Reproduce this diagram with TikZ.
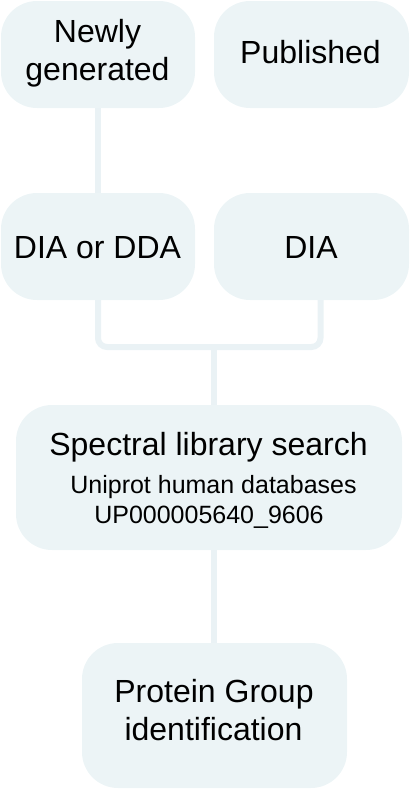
\documentclass[tikz,border=0pt]{standalone}
\usepackage{fontspec}
\setmainfont{Liberation Sans}
\definecolor{boxfill}{RGB}{236,244,246}
\definecolor{linecol}{RGB}{234,242,245}
\begin{document}
\begin{tikzpicture}[x=1pt,y=-1pt,
  box/.style={fill=boxfill,draw=none,rounded corners=36pt,inner sep=0pt},
  big/.style={font=\fontsize{32}{38}\selectfont,anchor=base,inner sep=0pt,text=black},
  small/.style={font=\fontsize{25}{30}\selectfont,anchor=base,inner sep=0pt,text=black},
  conn/.style={draw=linecol,line width=6pt}]
\useasboundingbox (0,0) rectangle (410,790);
% boxes
\node[box,minimum width=194pt,minimum height=107pt] (b1) at (98,54.5) {};
\node[box,minimum width=195pt,minimum height=107pt] (b2) at (311.5,54.5) {};
\node[box,minimum width=194pt,minimum height=107pt] (b3) at (98,246.5) {};
\node[box,minimum width=195pt,minimum height=107pt] (b4) at (311.5,246.5) {};
\node[box,minimum width=386pt,minimum height=145pt] (b5) at (209,477.5) {};
\node[box,minimum width=265pt,minimum height=145pt] (b6) at (214.5,715.5) {};
% connectors
\coordinate (jL) at (98,347);
\coordinate (jR) at (320.5,347);
\coordinate (jM) at (214,347);
\draw[conn] (b1.south) -- (b3.north);
\draw[conn,rounded corners=9pt] (b3.south) -- (jL) -- (jR) -- (jR |- b4.south);
\draw[conn] (jM) -- (jM |- b5.north);
\draw[conn] (jM |- b5.south) -- (jM |- b6.north);
% texts
\node[big] (t1a) at (97.5,42) {Newly};
\node[big] (t1b) at (97.5,80) {generated};
\node[big] (t2) at (310.5,63) {Published};
\node[big] (t3) at (97.5,258) {DIA or DDA};
\node[big] (t4) at (311,258) {DIA};
\node[big] (t5a) at (208.5,455) {Spectral library search};
\node[small] (t5b) at (213.5,493) {Uniprot human databases};
\node[small] (t5c) at (209,523) {UP000005640\_9606};
\node[big] (t6a) at (214,702) {Protein Group};
\node[big] (t6b) at (213.5,740) {identification};
\end{tikzpicture}
\end{document}
